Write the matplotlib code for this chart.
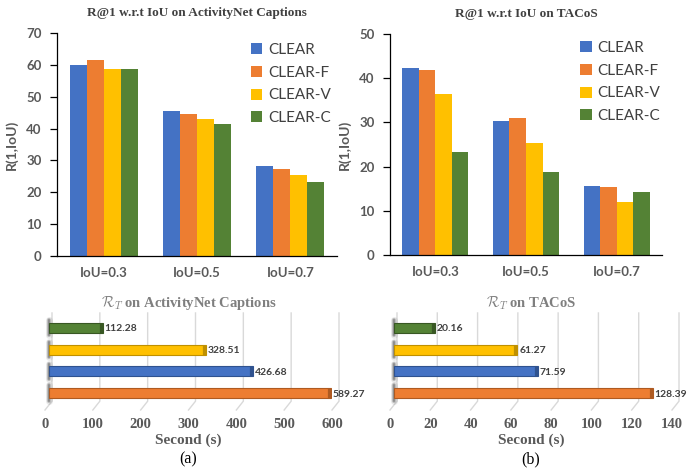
import numpy as np
import matplotlib
matplotlib.use("Agg")
import matplotlib.pyplot as plt
from matplotlib import transforms

plt.rcParams["mathtext.fontset"] = "cm"

# R@1 results per IoU threshold
iou_labels = ["IoU=0.3", "IoU=0.5", "IoU=0.7"]
methods = ["CLEAR", "CLEAR-F", "CLEAR-V", "CLEAR-C"]
colors = ["#4472C4", "#ED7D31", "#FFC000", "#548235"]
dark_colors = ["#2F528F", "#AE5A21", "#BF9000", "#385723"]

anet_r1 = {
    "CLEAR":   [60.1, 45.4, 28.2],
    "CLEAR-F": [61.6, 44.7, 27.3],
    "CLEAR-V": [58.7, 43.0, 25.4],
    "CLEAR-C": [58.6, 41.3, 23.2],
}
tacos_r1 = {
    "CLEAR":   [42.2, 30.3, 15.6],
    "CLEAR-F": [41.8, 31.0, 15.4],
    "CLEAR-V": [36.5, 25.3, 12.1],
    "CLEAR-C": [23.4, 18.7, 14.3],
}

# running time (seconds), drawn bottom-to-top
rt_order = ["CLEAR-F", "CLEAR", "CLEAR-V", "CLEAR-C"]
anet_rt = [589.27, 426.68, 328.51, 112.28]
tacos_rt = [128.39, 71.59, 61.27, 20.16]

TICK_GRAY = "#595959"
W, H = 694, 470


def px_box(left, top, right, bottom):
    return [left / W, 1 - bottom / H, (right - left) / W, (bottom - top) / H]


def r1_panel(fig, box, data, ymax, title, leg_x, leg_y0):
    ax = fig.add_axes(box)
    x = np.arange(len(iou_labels))
    bw = 0.182
    for i, m in enumerate(methods):
        ax.bar(x + (i - 1.5) * bw, data[m], bw, color=colors[i], label=m)
    ax.set_xlim(-0.5, len(iou_labels) - 0.5)
    ax.set_ylim(0, ymax)
    ax.set_yticks(np.arange(0, ymax + 1, 10))
    ax.set_xticks(x)
    ax.set_xticklabels(iou_labels)
    for s in ["top", "right"]:
        ax.spines[s].set_visible(False)
    ax.spines["left"].set_linewidth(0.9)
    ax.spines["bottom"].set_linewidth(0.9)
    ax.tick_params(axis="y", length=5, width=0.9, pad=6, labelsize=9.5,
                   labelcolor=TICK_GRAY)
    ax.tick_params(axis="x", length=0, pad=8, labelsize=9.5, labelcolor=TICK_GRAY)
    for lab in ax.get_xticklabels() + ax.get_yticklabels():
        lab.set_fontfamily("Lato")
        lab.set_fontweight("bold")
    ax.set_ylabel("R(1,IoU)", fontsize=10, color=TICK_GRAY, fontweight="bold",
                  family="Lato", labelpad=6)
    ax.set_title(title, family="Liberation Serif", fontweight="bold",
                 fontsize=9.5, color="#404040", pad=12)
    ax.legend(loc="upper left", bbox_to_anchor=(leg_x, leg_y0), frameon=False,
              prop={"family": "Lato", "size": 11}, labelcolor="#404040",
              handlelength=0.75, handleheight=0.75, handletextpad=0.35,
              labelspacing=0.57, borderaxespad=0, borderpad=0)
    return ax


def rt_panel(fig, box, values, xmax, step, title, tag):
    ax = fig.add_axes(box)
    ax.set_xlim(0, xmax)
    ax.set_ylim(-0.78, 3.73)
    ax_w = box[2] * W
    shift = transforms.ScaledTranslation(4 / 100, 0, fig.dpi_scale_trans)
    tr = ax.transData + shift

    # back-wall grid lines with a slanted floor segment
    dxf = 7 / ax_w
    for t in np.arange(0, xmax + 1, step):
        xa = t / xmax
        ax.plot([xa + dxf, xa + dxf, xa], [0.99, 0.09, 0.0],
                transform=ax.transAxes, color="#d9d9d9", lw=1.0, zorder=0,
                clip_on=False)

    y = np.arange(len(rt_order))
    bh = 0.46
    cap = xmax * 3 / ax_w
    for i, m in enumerate(rt_order):
        ci = methods.index(m)
        v = values[i]
        # left wall shadow
        for lw, a in [(5, 0.15), (3, 0.35), (1.5, 0.6)]:
            ax.plot([0, 0], [y[i] - 0.35, y[i] + 0.35], transform=tr,
                    color="#707070", lw=lw, alpha=a, solid_capstyle="round",
                    zorder=1)
        ax.barh(y[i], v - cap, bh, color=colors[ci], edgecolor=dark_colors[ci],
                linewidth=0.8, transform=tr, zorder=2)
        ax.barh(y[i], cap, bh, left=v - cap, color=dark_colors[ci],
                edgecolor=dark_colors[ci], linewidth=0.8, transform=tr, zorder=3)
        ax.text(v + cap * 0.6, y[i] - 0.05, f"{v:.2f}", transform=tr,
                va="center", ha="left", fontsize=7.5, fontweight="bold",
                family="Lato", color="#404040", zorder=4)

    for s in ax.spines.values():
        s.set_visible(False)
    ax.set_yticks([])
    ax.set_xticks(np.arange(0, xmax + 1, step))
    ax.tick_params(axis="x", length=0, pad=6, labelsize=10.5, labelcolor="#595959")
    for lab in ax.get_xticklabels():
        lab.set_fontfamily("Liberation Serif")
        lab.set_fontweight("bold")
    ax.set_title(r"$\mathcal{R}_T$ on " + title, family="Liberation Serif",
                 fontweight="bold", fontsize=10.5, color="#7f7f7f", pad=3)
    cx = box[0] + box[2] / 2
    fig.text(cx, 1 - 440 / H, "Second (s)", ha="center", va="center",
             family="Liberation Serif", fontweight="bold", fontsize=11,
             color="#595959")
    fig.text(cx, 1 - 459 / H, tag, ha="center", va="center",
             family="Liberation Serif", fontsize=11.5, color="black")
    return ax


fig = plt.figure(figsize=(6.94, 4.70), dpi=100)

r1_panel(fig, px_box(57, 33, 337, 256), anet_r1, 70,
         "R@1 w.r.t IoU on ActivityNet Captions", 0.693, 0.955)
r1_panel(fig, px_box(390, 34, 662, 255), tacos_r1, 50,
         "R@1 w.r.t IoU on TACoS", 0.70, 0.968)

rt_panel(fig, px_box(45, 312, 332, 410), anet_rt, 600, 100,
         "ActivityNet Captions", "(a)")
rt_panel(fig, px_box(390, 312, 672, 410), tacos_rt, 140, 20,
         "TACoS", "(b)")

fig.savefig("out.png", dpi=100)
